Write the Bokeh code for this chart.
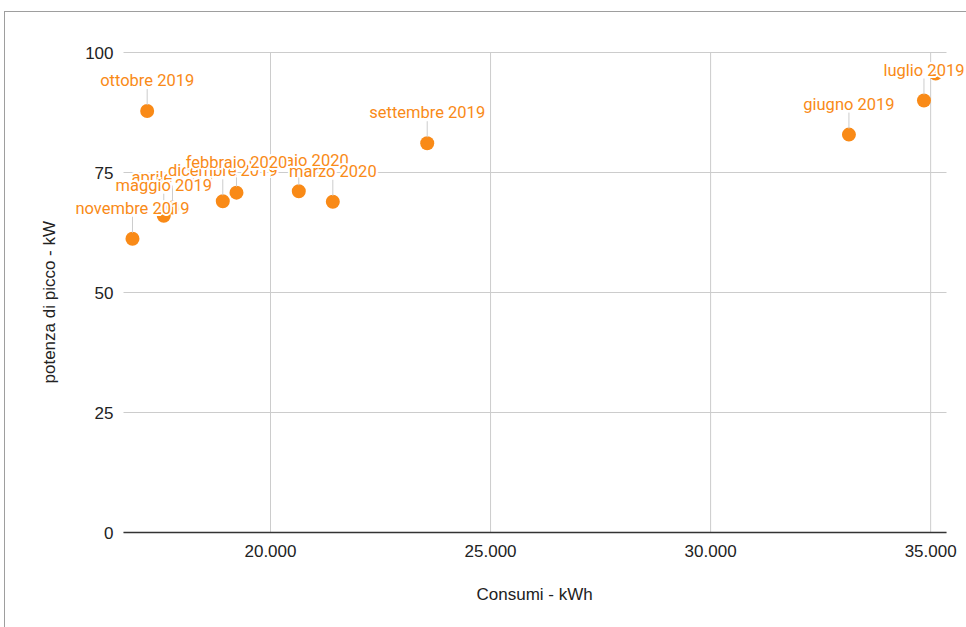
from bokeh.plotting import figure
from bokeh.models import ColumnDataSource, Range1d, FixedTicker, LabelSet, Title, InlineStyleSheet
from bokeh.core.properties import value
from bokeh.embed import file_html
from bokeh.resources import INLINE

# ---- data ----
months = ["aprile 2019", "maggio 2019", "giugno 2019", "luglio 2019", "agosto 2019",
          "settembre 2019", "ottobre 2019", "novembre 2019", "dicembre 2019",
          "gennaio 2020", "febbraio 2020", "marzo 2020"]
consumi_kwh = [17773, 17575, 33143, 34848, 35114, 23561, 17198, 16864, 18916, 20643, 19227, 21416]
potenza_kw = [67.7, 66.0, 82.9, 90.0, 95.6, 81.1, 87.8, 61.2, 69.0, 71.1, 70.8, 68.9]
# the label of "agosto 2019" is not visible in the reference
shown_labels = ["aprile 2019", "maggio 2019", "giugno 2019", "luglio 2019", "",
                "settembre 2019", "ottobre 2019", "novembre 2019", "dicembre 2019",
                "gennaio 2020", "febbraio 2020", "marzo 2020"]
x_ticks = [20000, 25000, 30000, 35000]
x_tick_labels = ["20.000", "25.000", "30.000", "35.000"]
y_ticks = [0, 25, 50, 75, 100]
x_title = "Consumi - kWh"
y_title = "potenza di picco - kW"

# ---- style / layout ----
ORANGE = "#F98A17"
GRID = "#cccccc"
X_START, X_END = 16660, 35360      # visible chart area in data units
Y_START, Y_END = 0, 100
W, H = 966, 627
AREA_L, AREA_R, AREA_T, AREA_B = 123, 946, 52, 532          # chart area in screen px
B_LEFT, B_RIGHT, B_TOP, B_BOTTOM = 60, 0, 40, 85            # frame larger so texts are not clipped
PX = (Y_END - Y_START) / (AREA_B - AREA_T)                  # data units per px (y)
KX = (X_END - X_START) / (AREA_R - AREA_L)                  # data units per px (x)
XR0 = X_START - (AREA_L - B_LEFT) * KX
XR1 = X_END + (W - B_RIGHT - AREA_R) * KX
YR0 = Y_START - (H - B_BOTTOM - AREA_B) * PX
YR1 = Y_END + (AREA_T - B_TOP) * PX
X_TITLE_W = 117

p = figure(width=W, height=H, x_range=Range1d(XR0, XR1), y_range=Range1d(YR0, YR1),
           output_backend="svg", toolbar_location=None,
           min_border_left=B_LEFT, min_border_right=B_RIGHT,
           min_border_top=B_TOP, min_border_bottom=B_BOTTOM)
p.outline_line_color = None
p.background_fill_color = "white"
p.border_fill_color = "white"
# outer border of the original chart container (top and left edges)
p.stylesheets = [InlineStyleSheet(css="""
:host::after {
  content: ""; position: absolute; left: 4px; top: 11px; right: 0; bottom: 0;
  border-left: 1px solid #9e9e9e; border-top: 1px solid #9e9e9e;
  pointer-events: none; z-index: 10;
}
""")]

p.xgrid.visible = False
p.ygrid.visible = False
# grid lines limited to the chart area
p.segment(x0=[X_START] * len(y_ticks), y0=y_ticks, x1=[X_END] * len(y_ticks), y1=y_ticks,
          line_color=GRID, line_width=1)
p.segment(x0=x_ticks, y0=[Y_START] * len(x_ticks), x1=x_ticks, y1=[Y_END] * len(x_ticks),
          line_color=GRID, line_width=1)
# baseline at zero
p.segment(x0=[X_START], y0=[0], x1=[X_END], y1=[0], line_color="#333333", line_width=1.5)

for ax in (p.xaxis[0], p.yaxis[0]):
    ax.axis_line_color = None
    ax.major_tick_line_color = None
    ax.minor_tick_line_color = None
    ax.major_tick_out = 0
    ax.major_tick_in = 0
    ax.minor_tick_out = 0
    ax.minor_tick_in = 0
    ax.major_label_text_font = "Liberation Sans"
    ax.major_label_text_font_size = "17px"
    ax.major_label_text_color = "#222222"

p.xaxis.ticker = FixedTicker(ticks=x_ticks)
p.xaxis.major_label_overrides = {t: l for t, l in zip(x_ticks, x_tick_labels)}
p.xaxis.major_label_standoff = 2
p.yaxis.ticker = FixedTicker(ticks=y_ticks)
p.yaxis.fixed_location = X_START
p.yaxis.major_label_standoff = 10

p.add_layout(Title(text=x_title, align="left",
                   offset=(AREA_L + AREA_R) / 2 - X_TITLE_W / 2 - B_LEFT,
                   text_font="Liberation Sans", text_font_size="17px", text_font_style="normal",
                   text_color="#222222", standoff=46), "below")
p.add_layout(Title(text=y_title, align="left", offset=159,
                   text_font="Liberation Sans", text_font_size="17px",
                   text_font_style="normal", text_color="#222222", standoff=3), "left")

src = ColumnDataSource(dict(x=consumi_kwh, y=potenza_kw, month=months, label=shown_labels))
p.scatter("x", "y", source=src, size=14, fill_color=ORANGE, line_color=None)

# leader lines (only for visible labels)
lx, ly0, ly1 = [], [], []
for x, y, lab in zip(consumi_kwh, potenza_kw, shown_labels):
    if lab:
        lx.append(x)
        ly0.append(y + 6 * PX)
        ly1.append(y + 22 * PX)
p.segment(x0=lx, y0=ly0, x1=lx, y1=ly1, line_color=GRID, line_width=1)

# labels with white halo, drawn in data order
halo = [(-2, 0), (2, 0), (0, -2), (0, 2), (-1.4, -1.4), (1.4, -1.4), (-1.4, 1.4), (1.4, 1.4)]
for x, y, lab in zip(consumi_kwh, potenza_kw, shown_labels):
    if not lab:
        continue
    hs = ColumnDataSource(dict(x=[x] * len(halo), y=[y] * len(halo), t=[lab] * len(halo),
                               xo=[d[0] for d in halo], yo=[25 + d[1] for d in halo]))
    p.add_layout(LabelSet(x="x", y="y", text="t", source=hs, x_offset="xo", y_offset="yo",
                          text_font=value("Roboto"), text_font_size=value("16.5px"),
                          text_color=value("white"),
                          text_align="center", text_baseline="alphabetic"))
    ts = ColumnDataSource(dict(x=[x], y=[y], t=[lab]))
    p.add_layout(LabelSet(x="x", y="y", text="t", source=ts, x_offset=0, y_offset=25,
                          text_font=value("Roboto"), text_font_size=value("16.5px"),
                          text_color=value(ORANGE),
                          text_align="center", text_baseline="alphabetic"))

open("out.html", "w").write(file_html(p, INLINE))
